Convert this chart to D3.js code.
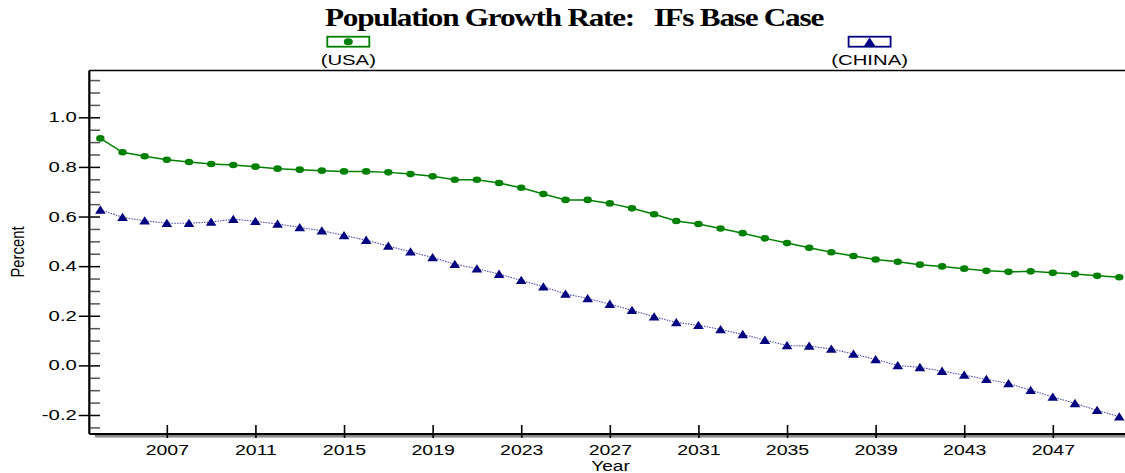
<!DOCTYPE html>
<html>
<head>
<meta charset="utf-8">
<script src="https://cdn.jsdelivr.net/npm/d3@7"></script>
<style>
  body { margin: 0; background: #fff; }
  text { font-family: "Liberation Sans", Arial, sans-serif; }
</style>
</head>
<body>
<div id="chart"></div>
<script>
var years = [2004, 2005, 2006, 2007, 2008, 2009, 2010, 2011, 2012, 2013, 2014, 2015, 2016, 2017, 2018, 2019,
    2020, 2021, 2022, 2023, 2024, 2025, 2026, 2027, 2028, 2029, 2030, 2031, 2032, 2033, 2034, 2035,
    2036, 2037, 2038, 2039, 2040, 2041, 2042, 2043, 2044, 2045, 2046, 2047, 2048, 2049, 2050]

var usa = [0.915, 0.859, 0.843, 0.829, 0.820, 0.812, 0.808, 0.801, 0.793, 0.789, 0.785, 0.782, 0.782, 0.778, 0.771, 0.762,
    0.748, 0.748, 0.735, 0.716, 0.691, 0.667, 0.667, 0.653, 0.633, 0.609, 0.582, 0.570, 0.552, 0.533, 0.512, 0.493,
    0.474, 0.456, 0.441, 0.427, 0.418, 0.406, 0.399, 0.390, 0.381, 0.377, 0.379, 0.373, 0.368, 0.361, 0.355]

var china = [0.627, 0.597, 0.583, 0.573, 0.573, 0.578, 0.589, 0.581, 0.570, 0.556, 0.543, 0.524, 0.505, 0.481, 0.458, 0.435,
    0.408, 0.390, 0.368, 0.343, 0.317, 0.288, 0.270, 0.247, 0.222, 0.196, 0.173, 0.162, 0.145, 0.125, 0.102, 0.080,
    0.078, 0.066, 0.046, 0.024, 0.000, -0.008, -0.023, -0.039, -0.056, -0.073, -0.100, -0.127, -0.153, -0.181, -0.207]

var yTicks = [-0.2, 0.0, 0.2, 0.4, 0.6, 0.8, 1.0]
var yMinor = [-0.25, -0.15, -0.1, -0.05, 0.05, 0.1, 0.15, 0.25, 0.3, 0.35, 0.45, 0.5, 0.55, 0.65, 0.7, 0.75,
    0.85, 0.9, 0.95, 1.05, 1.1, 1.15]
var xTicks = [2007, 2011, 2015, 2019, 2023, 2027, 2031, 2035, 2039, 2043, 2047]

var dims = { width: 1125, height: 473, left: 89.3, right: 1125, top: 70.5, bottom: 434 }

var svg = d3.select("#chart")
    .append("svg")
    .attr("width", dims.width)
    .attr("height", dims.height)

var x = d3.scaleLinear()
    .domain([2003.5, 2050.5])
    .range([dims.left, dims.left + 47 * 22.15])

var y = d3.scaleLinear()
    .domain([-0.2, 1.0])
    .range([415, 117.3])

// stretch text horizontally like the original
function stretch(sel, f) {
    sel.each(function () {
        var w = this.getComputedTextLength()
        d3.select(this).attr("textLength", w * f).attr("lengthAdjust", "spacingAndGlyphs")
    })
}

// title
svg.append("text")
    .attr("x", 574)
    .attr("y", 26)
    .attr("text-anchor", "middle")
    .style("font-family", "'Liberation Serif', 'Times New Roman', serif")
    .style("font-weight", "bold")
    .style("font-size", "25px")
    .style("letter-spacing", "-1px")
    .style("white-space", "pre")
    .attr("textLength", 498)
    .attr("lengthAdjust", "spacingAndGlyphs")
    .text("Population Growth Rate:   IFs Base Case")

// legend
var legend = [
    { name: "(USA)", cx: 348.3, color: "#008000", shape: "circle" },
    { name: "(CHINA)", cx: 869.6, color: "#000080", shape: "triangle" }
]
legend.forEach(function (d) {
    var g = svg.append("g").attr("transform", "translate(" + d.cx + ",0)")
    g.append("rect")
        .attr("x", -21).attr("y", 36.7)
        .attr("width", 42).attr("height", 10)
        .attr("fill", "#fff")
        .attr("stroke", d.color)
        .attr("stroke-width", 1.8)
    if (d.shape == "circle") {
        g.append("ellipse").attr("cx", 0).attr("cy", 41.7).attr("rx", 4.5).attr("ry", 3.5).attr("fill", d.color)
    } else {
        g.append("path").attr("d", "M0,37.5L6,46.5L-6,46.5Z").attr("fill", d.color)
    }
    var t = g.append("text")
        .attr("x", 0).attr("y", 65)
        .attr("text-anchor", "middle")
        .style("font-size", "14px")
        .text(d.name)
    stretch(t, 1.45)
})

// frame lines
svg.append("line")
    .attr("x1", dims.left).attr("x2", dims.right)
    .attr("y1", dims.top).attr("y2", dims.top)
    .attr("stroke", "#000").attr("stroke-width", 1.6)
svg.append("line")
    .attr("x1", 95).attr("x2", dims.right)
    .attr("y1", dims.bottom + 2.2).attr("y2", dims.bottom + 2.2)
    .attr("stroke", "#888").attr("stroke-width", 2.6)
svg.append("line")
    .attr("x1", dims.left).attr("x2", dims.right)
    .attr("y1", dims.bottom).attr("y2", dims.bottom)
    .attr("stroke", "#000").attr("stroke-width", 1.8)

// minor y ticks
var yMinorAxis = svg.append("g")
    .attr("transform", "translate(" + dims.left + ",0)")
    .call(d3.axisRight(y).tickValues(yMinor).tickSize(10.7).tickFormat(""))
yMinorAxis.select(".domain").remove()
yMinorAxis.selectAll("line").attr("stroke", "#555").attr("stroke-width", 1.5)

// y axis
var yAxis = svg.append("g")
    .attr("transform", "translate(" + dims.left + ",0)")
    .call(d3.axisLeft(y).tickValues(yTicks).tickSize(10.5).tickPadding(2)
        .tickFormat(function (d) { return d.toFixed(1) }))
yAxis.select(".domain").remove()
yAxis.selectAll(".tick line").attr("stroke", "#000").attr("stroke-width", 1.5)
yAxis.selectAll(".tick").append("line")
    .attr("x1", 0).attr("x2", 10.7)
    .attr("stroke", "#000").attr("stroke-width", 1.5)
yAxis.selectAll("text").style("font-size", "14px").attr("fill", "#000")
stretch(yAxis.selectAll("text"), 1.45)

svg.append("line")
    .attr("x1", dims.left).attr("x2", dims.left)
    .attr("y1", dims.top).attr("y2", dims.bottom)
    .attr("stroke", "#000").attr("stroke-width", 2.2)

// x axis
var xAxis = svg.append("g")
    .attr("transform", "translate(0," + dims.bottom + ")")
    .call(d3.axisBottom(x).tickValues(xTicks).tickSize(4).tickPadding(6.5).tickFormat(d3.format("d")))
xAxis.select(".domain").remove()
xAxis.selectAll(".tick line").attr("y1", -9).attr("stroke", "#000").attr("stroke-width", 1.6)
xAxis.selectAll("text").style("font-size", "15px").attr("fill", "#000")
stretch(xAxis.selectAll("text"), 1.3)

// axis titles
var yt = svg.append("text")
    .attr("transform", "translate(23.5,252) rotate(-90)")
    .attr("text-anchor", "middle")
    .style("font-size", "18px")
    .text("Percent")
yt.attr("textLength", 51).attr("lengthAdjust", "spacingAndGlyphs")

var xt = svg.append("text")
    .attr("x", 610.5).attr("y", 471)
    .attr("text-anchor", "middle")
    .style("font-size", "14px")
    .text("Year")
stretch(xt, 1.36)

// series
var usaData = years.map(function (yr, i) { return { year: yr, value: usa[i] } })
var chinaData = years.map(function (yr, i) { return { year: yr, value: china[i] } })

var line = d3.line()
    .x(function (d) { return x(d.year) })
    .y(function (d) { return y(d.value) })

svg.append("path")
    .datum(chinaData)
    .attr("d", line)
    .attr("fill", "none")
    .attr("stroke", "#4a4ab8")
    .attr("stroke-width", 1.1)
    .attr("stroke-dasharray", "1.5,1.2")

svg.append("g")
    .selectAll("path")
    .data(chinaData)
    .enter()
    .append("path")
    .attr("transform", function (d) { return "translate(" + x(d.year) + "," + y(d.value) + ")" })
    .attr("d", "M0,-4.5L5.3,3.8L-5.3,3.8Z")
    .attr("fill", "#000080")

svg.append("path")
    .datum(usaData)
    .attr("d", line)
    .attr("fill", "none")
    .attr("stroke", "#008000")
    .attr("stroke-width", 1.5)

svg.append("g")
    .selectAll("ellipse")
    .data(usaData)
    .enter()
    .append("ellipse")
    .attr("cx", function (d) { return x(d.year) })
    .attr("cy", function (d) { return y(d.value) })
    .attr("rx", 4.2)
    .attr("ry", 3.3)
    .attr("fill", "#008000")
</script>
</body>
</html>
